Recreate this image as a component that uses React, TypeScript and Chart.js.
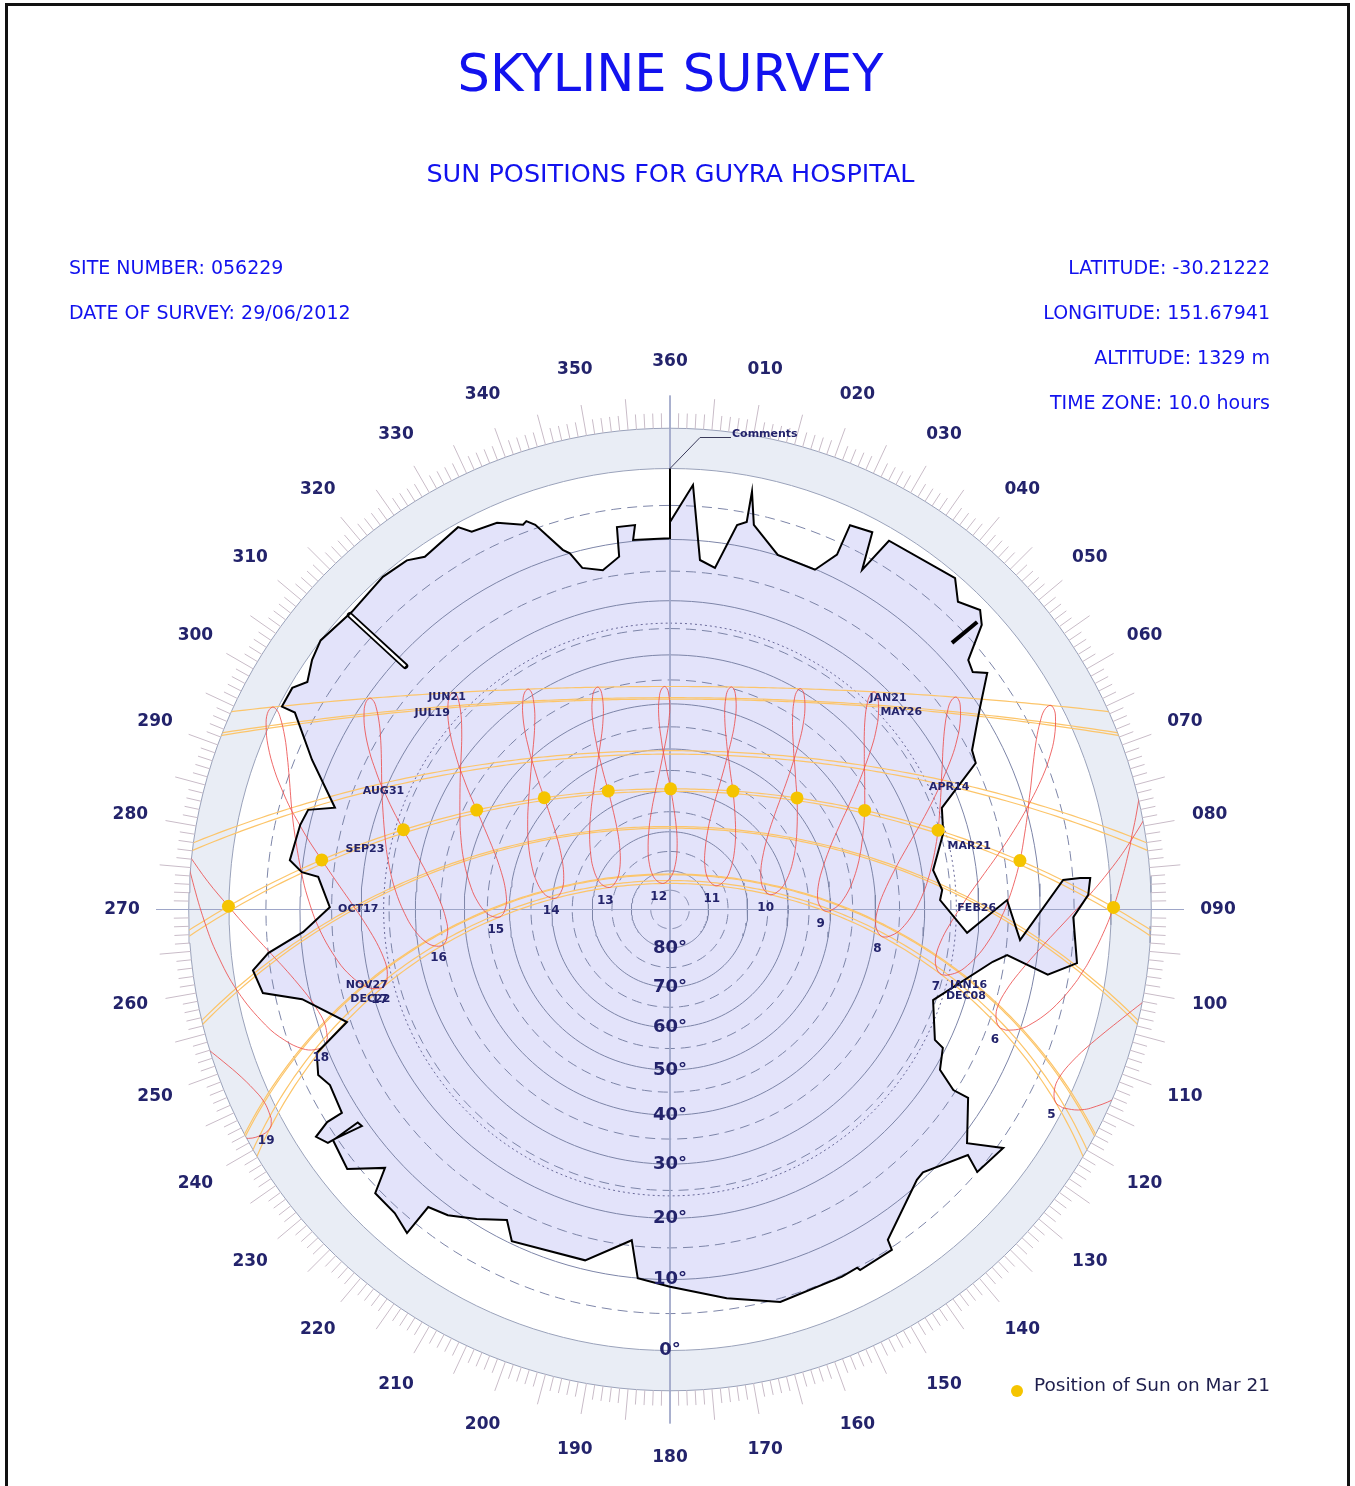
import React, { useEffect, useRef } from 'react';
import { Chart, registerables } from 'chart.js';

Chart.register(...registerables);

// ---------------- Site ----------------
const LATITUDE = -30.21222;
const LONGITUDE = 151.67941;
const TIME_ZONE = 10.0;

// ---------------- Solar table (day of year, declination in deg, equation of time in min) ----------------
const SAMPLE_DAYS = [1, 11, 16, 21, 32, 42, 52, 57, 61, 71, 81, 92, 102, 105, 112, 122, 135, 147, 158, 173, 183, 193, 208, 219, 229, 244, 255, 267, 277, 291, 308, 320, 332, 343, 357];
const DECLINATION = [-23.0, -21.8, -21.0, -20.0, -17.1, -14.1, -10.8, -8.9, -7.7, -3.8, 0.4, 4.4, 8.2, 9.4, 11.8, 15.0, 18.6, 21.1, 22.7, 23.44, 23.1, 22.1, 19.3, 16.6, 13.6, 8.6, 4.5, -0.2, -3.9, -9.3, -15.1, -18.5, -21.2, -22.7, -23.44];
const EQ_OF_TIME = [-3.3, -7.6, -9.5, -11.1, -13.5, -14.2, -13.8, -13.0, -12.5, -10.2, -7.3, -4.0, -1.2, -0.2, 1.2, 2.9, 3.7, 3.0, 1.4, -1.6, -3.8, -5.4, -6.5, -5.9, -4.3, -0.3, 3.2, 7.5, 10.8, 14.6, 16.4, 15.5, 12.5, 8.0, 1.6];

// ---------------- Day arcs ----------------
const ARC_DECLINATION = [23.44, 20.8, 21.1, 8.6, 9.4, -0.2, 0.4, -9.3, -8.9, -21.2, -21.0, -23.44, -22.7];
const ARC_WEST_LABELS = ['JUN21', 'JUL19', '', 'AUG31', '', 'SEP23', '', 'OCT17', '', 'NOV27', '', 'DEC22', ''];
const ARC_EAST_LABELS = ['JAN21', '', 'MAY26', '', 'APR14', '', 'MAR21', '', 'FEB26', '', 'JAN16', '', 'DEC08'];
const ARC_LABEL_ALTITUDE = 20;

// ---------------- Analemma hours & Mar 21 positions ----------------
const HOURS = [5, 6, 7, 8, 9, 10, 11, 12, 13, 14, 15, 16, 17, 18, 19];
const MAR21_HOURS = [6, 7, 8, 9, 10, 11, 12, 13, 14, 15, 16, 17, 18];
const MAR21_DECLINATION = 0.4;
const MAR21_EQ_OF_TIME = -7.3;

// ---------------- Grid ----------------
const ALTITUDE_CIRCLES = [5, 10, 15, 20, 25, 30, 35, 40, 45, 50, 55, 60, 65, 70, 75, 80, 85];
const ALTITUDE_LABELS = [0, 10, 20, 30, 40, 50, 60, 70, 80];
const AZIMUTH_LABELS = [0, 10, 20, 30, 40, 50, 60, 70, 80, 90, 100, 110, 120, 130, 140, 150, 160, 170, 180, 190, 200, 210, 220, 230, 240, 250, 260, 270, 280, 290, 300, 310, 320, 330, 340, 350];
const RING_ALTITUDE = -5;
const DOTTED_ALTITUDE = 24;

// ---------------- Skyline (azimuth deg, altitude deg) ----------------
const SKYLINE_AZ = [0, 0, 3.1, 4.9, 7.5, 9.9, 11.2, 11.1, 12.3, 16.9, 23.1, 25.2, 25.1, 28.2, 29.5, 30.7, 40.7, 43.1, 46.0, 47.6, 50.1, 51.9, 53.3, 56.9, 62.2, 64.4, 69.5, 74.4, 81.5, 85.9, 88.0, 94.5, 88.4, 95.0, 85.7, 85.6, 85.7, 88.0, 91.1, 97.5, 99.8, 97.7, 99.2, 109.0, 116.2, 116.9, 120.7, 122.5, 122.3, 128.2, 125.6, 130.5, 129.5, 136.1, 137.6, 146.6, 146.9, 152.2, 152.4, 154.9, 164.3, 171.7, 180.0, 185.0, 186.6, 193.6, 205.5, 207.7, 212.0, 216.0, 219.1, 219.1, 222.2, 226.1, 227.8, 231.2, 235.6, 235.7, 234.9, 235.6, 235.7, 237.3, 238.2, 238.2, 242.7, 244.8, 247.9, 250.8, 256.3, 258.4, 261.7, 263.8, 266.5, 270.4, 275.3, 275.8, 277.4, 282.9, 285.4, 286.9, 292.7, 297.7, 297.6, 300.4, 302.1, 304.9, 307.6, 313.1, 319.2, 323.0, 325.2, 331.0, 332.3, 335.9, 339.1, 339.7, 340.7, 343.4, 344.3, 345.6, 348.8, 351.8, 352.1, 354.8, 354.3, 359.9, 360];
const SKYLINE_ALT = [0, 7.4, 2.1, 13.0, 14.0, 7.0, 6.3, 2.0, 6.5, 9.9, 10.1, 6.7, 2.2, 1.7, 7.0, 1.6, 0.5, 2.6, 1.3, 2.5, 7.2, 7.8, 6.2, 10.0, 14.5, 14.9, 23.3, 24.5, 27.8, 26.5, 27.0, 21.9, 15.2, 12.9, 6.4, 4.0, 2.6, 3.0, 5.1, 4.1, 8.0, 14.7, 16.9, 25.5, 22.4, 20.5, 19.1, 15.4, 12.7, 8.8, 4.2, 5.0, 7.6, 10.8, 10.6, 6.2, 4.7, 4.5, 5.0, 4.8, 4.5, 6.6, 8.9, 10.0, 15.9, 11.4, 10.4, 13.0, 10.8, 8.8, 8.0, 3.2, 4.2, 4.3, 7.8, 3.6, 4.4, 8.8, 9.0, 4.8, 3.6, 2.7, 5.1, 7.6, 8.1, 7.2, 8.3, 14.4, 8.7, 3.4, 2.6, 5.0, 10.4, 14.7, 12.6, 10.0, 8.0, 8.6, 9.2, 13.1, 7.3, 2.3, 0.4, 0.4, 1.7, 0.6, 0.0, 0.7, 0.2, 0.5, 1.5, 0.5, 1.9, 2.3, 3.9, 3.6, 4.5, 9.2, 10.0, 12.7, 13.8, 12.1, 7.6, 7.6, 9.8, 9.8, 0];

// Single obstructions drawn as lines
const POLE_AZ = [312.6, 312.6];
const POLE_ALT = [0.8, 11.6];
const WIRE_AZ = [46.6, 46.9];
const WIRE_ALT = [7.3, 2.7];

// ---------------- Geometry helpers ----------------
const D2R = Math.PI / 180;
const UNIT_PX = 441;
const CX_PX = 670;
const CY_PX = 909.5;
const W = 1355;
const H = 1486;

const NAVY = '#23236b';
const FONT = '"DejaVu Sans", Verdana, sans-serif';

function project(az: number, alt: number) {
  const a = Math.max(alt, -80);
  const k = Math.tan(((90 - a) / 2) * D2R);
  return { x: k * Math.sin(az * D2R), y: k * Math.cos(az * D2R) };
}

function horizontal(decl: number, hourAngleDeg: number) {
  const phi = LATITUDE * D2R;
  const d = decl * D2R;
  const h = hourAngleDeg * D2R;
  const sinAlt = Math.sin(phi) * Math.sin(d) + Math.cos(phi) * Math.cos(d) * Math.cos(h);
  const alt = Math.asin(Math.max(-1, Math.min(1, sinAlt))) / D2R;
  let az = Math.atan2(-Math.sin(h) * Math.cos(d), Math.cos(phi) * Math.sin(d) - Math.sin(phi) * Math.cos(d) * Math.cos(h)) / D2R;
  if (az < 0) az += 360;
  return { az, alt };
}

function sunPosition(decl: number, eot: number, clock: number) {
  const solar = clock + (LONGITUDE - TIME_ZONE * 15) / 15 + eot / 60;
  return horizontal(decl, (solar - 12) * 15);
}

function circleData(k: number) {
  const pts = [];
  for (let a = 0; a <= 360; a += 2) pts.push({ x: k * Math.sin(a * D2R), y: k * Math.cos(a * D2R) });
  return pts;
}

function kOf(alt: number) {
  return Math.tan(((90 - alt) / 2) * D2R);
}

function buildDatasets() {
  const ds: any[] = [];
  const add = (o: any) => ds.push({ pointRadius: 0, pointHoverRadius: 0, borderWidth: 1, fill: false, tension: 0, ...o });

  const skyline = SKYLINE_AZ.map((az, i) => project(az, SKYLINE_ALT[i]));

  // skyline fill
  add({ data: skyline, fill: 'shape', backgroundColor: '#e3e3fa', borderColor: 'rgba(0,0,0,0)', borderWidth: 0 });

  // altitude circles
  ALTITUDE_CIRCLES.forEach((alt) => {
    add({ data: circleData(kOf(alt)), borderColor: '#7d85a8', borderWidth: 1, borderDash: alt % 10 === 0 ? [] : [10, 6] });
  });
  add({ data: circleData(kOf(0)), borderColor: '#9aa2ba', borderWidth: 1 });
  add({ data: circleData(kOf(RING_ALTITUDE)), borderColor: '#9aa2ba', borderWidth: 1 });
  add({ data: circleData(kOf(DOTTED_ALTITUDE)), borderColor: '#6a6a9a', borderWidth: 1, borderDash: [2, 3] });

  // cross lines
  const L = 514 / UNIT_PX;
  add({ data: [{ x: 0, y: L }, { x: 0, y: -L }], borderColor: '#9ea6c8', borderWidth: 1 });
  add({ data: [{ x: -L, y: 0 }, { x: L, y: 0 }], borderColor: '#9ea6c8', borderWidth: 1 });

  // day arcs
  ARC_DECLINATION.forEach((decl) => {
    const pts = [];
    for (let ha = -180; ha <= 180; ha += 1) {
      const p = horizontal(decl, ha);
      if (p.alt > -8) pts.push(project(p.az, p.alt));
    }
    add({ data: pts, borderColor: '#fcc56a', borderWidth: 1.2, clipCircle: true });
  });

  // analemmas
  HOURS.forEach((hour) => {
    const pts = SAMPLE_DAYS.map((_, i) => {
      const p = sunPosition(DECLINATION[i], EQ_OF_TIME[i], hour);
      return project(p.az, p.alt);
    });
    pts.push(pts[0]);
    add({ data: pts, borderColor: 'rgba(236,80,80,0.85)', borderWidth: 1, tension: 0.4, clipCircle: true });
  });

  // skyline border
  add({ data: skyline, borderColor: '#000000', borderWidth: 2 });

  // pole & wire
  const pole = POLE_AZ.map((az, i) => project(az, POLE_ALT[i]));
  add({ data: pole, borderColor: '#000000', borderWidth: 6, borderCapStyle: 'round' });
  add({ data: pole, borderColor: '#ffffff', borderWidth: 2.5 });
  add({ data: WIRE_AZ.map((az, i) => project(az, WIRE_ALT[i])), borderColor: '#000000', borderWidth: 4 });

  // Mar 21 positions
  add({
    data: MAR21_HOURS.map((hr) => {
      const p = sunPosition(MAR21_DECLINATION, MAR21_EQ_OF_TIME, hr);
      return project(p.az, p.alt);
    }),
    showLine: false,
    pointRadius: 6.5,
    pointBackgroundColor: '#f5c400',
    pointBorderColor: '#f5c400',
    pointBorderWidth: 0,
  });

  return ds.map((d, i) => ({ ...d, order: -i }));
}

const skyPlugin = {
  id: 'skyPlugin',
  beforeDatasetsDraw(chart: any) {
    const { ctx } = chart;
    const xs = chart.scales.x;
    const ys = chart.scales.y;
    const cx = xs.getPixelForValue(0);
    const cy = ys.getPixelForValue(0);
    const u = xs.getPixelForValue(1) - cx;
    ctx.save();
    ctx.beginPath();
    ctx.arc(cx, cy, kOf(RING_ALTITUDE) * u, 0, Math.PI * 2);
    ctx.arc(cx, cy, kOf(0) * u, 0, Math.PI * 2, true);
    ctx.fillStyle = '#e9edf5';
    ctx.fill('evenodd');
    ctx.restore();
  },
  beforeDatasetDraw(chart: any, args: any) {
    const d = chart.data.datasets[args.index];
    if (!d.clipCircle) return;
    const { ctx } = chart;
    const xs = chart.scales.x;
    const ys = chart.scales.y;
    const cx = xs.getPixelForValue(0);
    const cy = ys.getPixelForValue(0);
    const u = xs.getPixelForValue(1) - cx;
    ctx.save();
    ctx.beginPath();
    ctx.arc(cx, cy, kOf(RING_ALTITUDE) * u, 0, Math.PI * 2);
    ctx.clip();
  },
  afterDatasetDraw(chart: any, args: any) {
    const d = chart.data.datasets[args.index];
    if (!d.clipCircle) return;
    chart.ctx.restore();
  },
  afterDraw(chart: any) {
    const { ctx } = chart;
    const xs = chart.scales.x;
    const ys = chart.scales.y;
    const px = (p: { x: number; y: number }) => ({ x: xs.getPixelForValue(p.x), y: ys.getPixelForValue(p.y) });
    const u = xs.getPixelForValue(1) - xs.getPixelForValue(0);
    ctx.save();

    // ticks
    const kr = kOf(RING_ALTITUDE);
    ctx.strokeStyle = '#c9bcc8';
    ctx.lineWidth = 1;
    for (let a = 0; a < 360; a++) {
      if (a % 90 === 0) continue;
      const len = a % 5 === 0 ? 31 : 15;
      const k2 = kr + len / u;
      const p1 = px({ x: kr * Math.sin(a * D2R), y: kr * Math.cos(a * D2R) });
      const p2 = px({ x: k2 * Math.sin(a * D2R), y: k2 * Math.cos(a * D2R) });
      ctx.beginPath();
      ctx.moveTo(p1.x, p1.y);
      ctx.lineTo(p2.x, p2.y);
      ctx.stroke();
    }

    // azimuth labels
    ctx.fillStyle = NAVY;
    ctx.textAlign = 'center';
    ctx.textBaseline = 'middle';
    ctx.font = `bold 17px ${FONT}`;
    const kl = 548 / u;
    AZIMUTH_LABELS.forEach((a) => {
      const p = px({ x: kl * Math.sin(a * D2R), y: kl * Math.cos(a * D2R) });
      const t = a === 0 ? '360' : String(a).padStart(3, '0');
      ctx.fillText(t, p.x, p.y);
    });

    // altitude labels
    ctx.font = `bold 18px ${FONT}`;
    ALTITUDE_LABELS.forEach((alt) => {
      const p = px(project(180, alt));
      ctx.fillText(`${alt}°`, p.x, p.y);
    });

    // hour labels at the summer solstice end of each analemma
    ctx.font = `bold 12px ${FONT}`;
    const iSol = DECLINATION.length - 1;
    HOURS.forEach((hour) => {
      const s = sunPosition(DECLINATION[iSol], EQ_OF_TIME[iSol], hour);
      const p = px(project(s.az, s.alt));
      ctx.fillText(String(hour), p.x - 4, p.y + 13);
    });

    // date labels where each arc crosses 20 deg altitude
    ctx.font = `bold 11px ${FONT}`;
    const phi = LATITUDE * D2R;
    ARC_DECLINATION.forEach((decl, i) => {
      const d = decl * D2R;
      const c = (Math.sin(ARC_LABEL_ALTITUDE * D2R) - Math.sin(phi) * Math.sin(d)) / (Math.cos(phi) * Math.cos(d));
      const ha = Math.acos(Math.max(-1, Math.min(1, c))) / D2R;
      if (ARC_WEST_LABELS[i]) {
        const s = horizontal(decl, ha);
        const p = px(project(s.az, s.alt));
        ctx.fillText(ARC_WEST_LABELS[i], p.x - 3, p.y + 4);
      }
      if (ARC_EAST_LABELS[i]) {
        const s = horizontal(decl, -ha);
        const p = px(project(s.az, s.alt));
        ctx.fillText(ARC_EAST_LABELS[i], p.x - 2, p.y + 5);
      }
    });

    // Comments leader
    const top = px(project(0, 0));
    ctx.strokeStyle = '#3a3a5a';
    ctx.lineWidth = 1;
    ctx.beginPath();
    ctx.moveTo(top.x, top.y);
    ctx.lineTo(top.x + 30, top.y - 31);
    ctx.lineTo(top.x + 61, top.y - 31);
    ctx.stroke();
    ctx.textAlign = 'left';
    ctx.textBaseline = 'alphabetic';
    ctx.fillText('Comments', top.x + 62, top.y - 32);

    ctx.restore();
  },
};

export default function App() {
  const ref = useRef<HTMLCanvasElement>(null);

  useEffect(() => {
    const canvas = ref.current;
    if (!canvas) return;
    const chart = new Chart(canvas, {
      type: 'line',
      data: { datasets: buildDatasets() },
      options: {
        responsive: false,
        maintainAspectRatio: false,
        animation: false,
        events: [],
        layout: { padding: 0, autoPadding: false },
        plugins: { legend: { display: false }, tooltip: { enabled: false }, title: { display: false } },
        scales: {
          x: { type: 'linear', min: -CX_PX / UNIT_PX, max: (W - CX_PX) / UNIT_PX, display: false },
          y: { type: 'linear', min: -(H - CY_PX) / UNIT_PX, max: CY_PX / UNIT_PX, display: false },
        },
      } as any,
      plugins: [skyPlugin as any],
    });
    return () => chart.destroy();
  }, []);

  const blue = '#1212ee';
  const info = (text: string, top: number, side: 'left' | 'right') => (
    <div
      style={{
        position: 'absolute',
        top,
        left: side === 'left' ? 69 : 0,
        width: side === 'left' ? 600 : 1270,
        textAlign: side,
        fontSize: 19,
        lineHeight: '24px',
        color: blue,
        whiteSpace: 'nowrap',
      }}
    >
      {text}
    </div>
  );

  return (
    <div
      style={{
        position: 'absolute',
        left: 0,
        top: 0,
        width: W,
        height: H,
        overflow: 'hidden',
        background: '#ffffff',
        fontFamily: FONT,
      }}
    >
      <canvas ref={ref} width={W} height={H} style={{ position: 'absolute', left: 0, top: 0, width: W, height: H }} />
      <div
        style={{
          position: 'absolute',
          left: 5,
          top: 3,
          width: 1345,
          height: 1600,
          border: '3px solid #111',
          boxSizing: 'border-box',
          pointerEvents: 'none',
        }}
      />
      <div style={{ position: 'absolute', top: 44, left: 0, width: 1341, textAlign: 'center', fontSize: 51, lineHeight: '60px', color: blue }}>
        SKYLINE SURVEY
      </div>
      <div style={{ position: 'absolute', top: 158, left: 0, width: 1341, textAlign: 'center', fontSize: 25.5, lineHeight: '30px', color: blue }}>
        SUN POSITIONS FOR GUYRA HOSPITAL
      </div>
      {info('SITE NUMBER: 056229', 255, 'left')}
      {info('DATE OF SURVEY: 29/06/2012', 300, 'left')}
      {info('LATITUDE: -30.21222', 255, 'right')}
      {info('LONGITUDE: 151.67941', 300, 'right')}
      {info('ALTITUDE: 1329 m', 345, 'right')}
      {info('TIME ZONE: 10.0 hours', 390, 'right')}
      <div style={{ position: 'absolute', left: 1011, top: 1385, width: 12, height: 12, borderRadius: 6, background: '#f5c400' }} />
      <div style={{ position: 'absolute', left: 1034, top: 1373, fontSize: 18.5, lineHeight: '24px', color: '#1f1f4d', whiteSpace: 'nowrap' }}>
        Position of Sun on Mar 21
      </div>
    </div>
  );
}
